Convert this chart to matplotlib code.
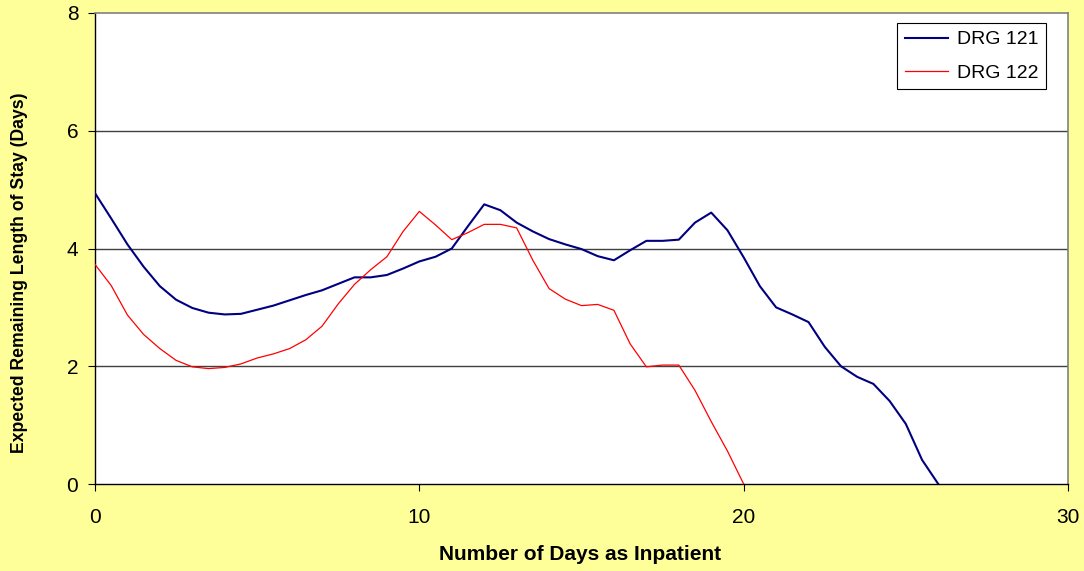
import numpy as np
import matplotlib
matplotlib.use('Agg')
import matplotlib.pyplot as plt

plt.rcParams['font.family'] = ['Liberation Sans', 'DejaVu Sans']

# values, every half day
days_121 = np.arange(0, 26.5, 0.5)
drg_121 = [4.94, 4.51, 4.07, 3.69, 3.36, 3.13, 2.99, 2.91, 2.88, 2.89,
           2.96, 3.03, 3.12, 3.21, 3.29, 3.40, 3.51, 3.51, 3.55, 3.66,
           3.78, 3.86, 4.00, 4.38, 4.75, 4.65, 4.44, 4.29, 4.16, 4.07,
           3.99, 3.87, 3.80, 3.97, 4.13, 4.13, 4.15, 4.44, 4.61, 4.31,
           3.85, 3.36, 3.00, 2.88, 2.75, 2.33, 2.00, 1.82, 1.70, 1.41,
           1.02, 0.41, 0.0]

days_122 = np.arange(0, 20.5, 0.5)
drg_122 = [3.73, 3.37, 2.87, 2.54, 2.30, 2.10, 1.99, 1.96, 1.98, 2.04,
           2.14, 2.21, 2.30, 2.45, 2.68, 3.06, 3.39, 3.64, 3.86, 4.29,
           4.63, 4.40, 4.15, 4.27, 4.41, 4.41, 4.35, 3.80, 3.32, 3.14,
           3.03, 3.05, 2.95, 2.38, 1.99, 2.02, 2.02, 1.59, 1.06, 0.56,
           0.0]

bg = '#FFFF99'
fig = plt.figure(figsize=(10.84, 5.71), dpi=100, facecolor=bg)
ax = fig.add_axes([95/1084, 87/571, 973/1084, 471/571])
ax.set_facecolor('white')

ax.plot(days_121, drg_121, color='#000080', lw=1.5, label='DRG 121', zorder=3)
ax.plot(days_122, drg_122, color='#FF0000', lw=0.9, label='DRG 122', zorder=3)

ax.set_xlim(0, 30)
ax.set_ylim(0, 8)
ax.set_xticks([0, 10, 20, 30])
ax.set_yticks([0, 2, 4, 6, 8])
for yv in [2, 4, 6]:
    ax.axhline(yv, color='#404040', lw=1.0, zorder=1)

for s in ['top', 'right']:
    ax.spines[s].set_color('#808080')
    ax.spines[s].set_linewidth(1.2)
for s in ['left', 'bottom']:
    ax.spines[s].set_color('black')
    ax.spines[s].set_linewidth(1.0)

ax.tick_params(axis='y', direction='out', length=5, width=0.8, pad=7, labelsize=15)
ax.tick_params(axis='x', direction='out', length=5, width=0.8, pad=12, labelsize=15)

fig.text(580/1084, 1 - 555/571, 'Number of Days as Inpatient', fontsize=15,
         fontweight='bold', ha='center', va='center')
fig.text(20/1084, 1 - 273/571, 'Expected Remaining Length of Stay (Days)', fontsize=12.7,
         fontweight='bold', ha='center', va='center', rotation=90)

leg = ax.legend(loc='upper right', bbox_to_anchor=((1046 - 95) / 973, (484 - 23) / 471),
                fancybox=False, framealpha=1, edgecolor='black', fontsize=14,
                handlelength=2.2, borderpad=0.4, labelspacing=0.8,
                handletextpad=0.45, borderaxespad=0)
leg.get_frame().set_linewidth(0.8)

fig.savefig('out.png', dpi=100, facecolor=bg)
